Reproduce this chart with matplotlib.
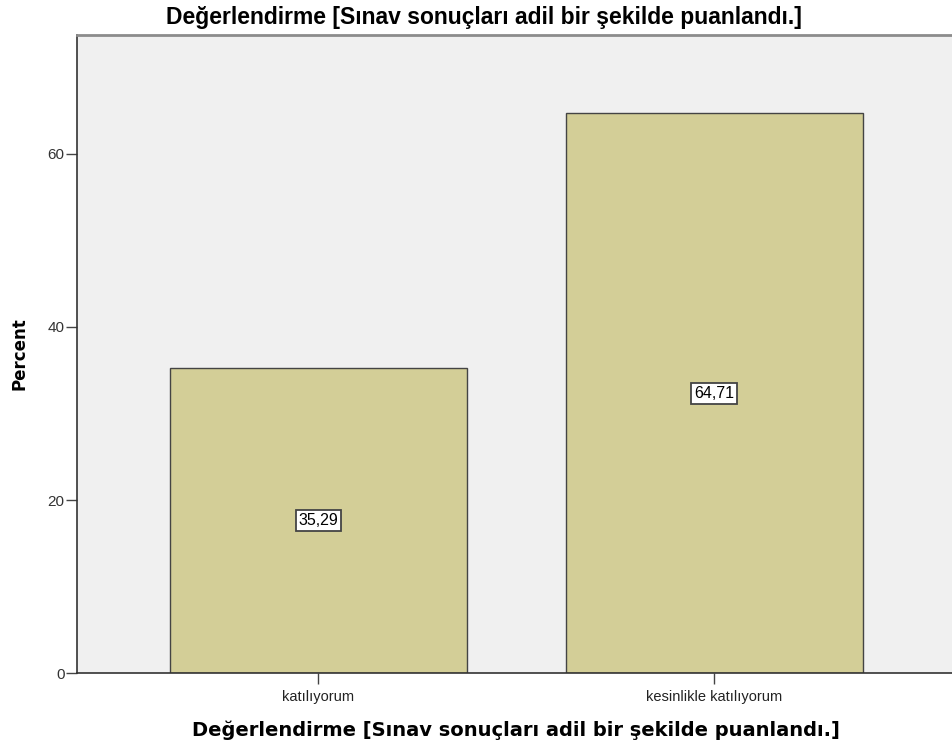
import matplotlib.pyplot as plt

categories = ["katılıyorum", "kesinlikle katılıyorum"]
percents = [35.29, 64.71]
value_labels = ["35,29", "64,71"]
y_ticks = [0, 20, 40, 60]
title = "Değerlendirme [Sınav sonuçları adil bir şekilde puanlandı.]"

plt.rcParams['font.family'] = ['Liberation Sans', 'DejaVu Sans']

fig = plt.figure(figsize=(9.52, 7.53), dpi=100)
ax = fig.add_axes([0.0809, 0.1062, 0.923, 0.8473])
ax.set_facecolor('#f0f0f0')

x = list(range(len(categories)))
ax.bar(x, percents, width=0.75, color='#d3ce97', edgecolor='#444444', linewidth=1.0, zorder=2)

# value labels in the middle of each bar
for xi, val, lab in zip(x, percents, value_labels):
    ax.text(xi, val / 2, lab, ha='center', va='center', fontsize=11.5, color='black', zorder=3,
            bbox=dict(boxstyle='square,pad=0.18', facecolor='white', edgecolor='#444444', linewidth=1.3))

ax.set_xlim(-0.61, 1.61)
ax.set_ylim(0, 73.75)
ax.set_xticks(x)
ax.set_xticklabels(categories, fontsize=10.5, color='#222222')
ax.set_yticks(y_ticks)
ax.set_yticklabels([str(t) for t in y_ticks], fontsize=11, color='#333333')
ax.tick_params(axis='y', direction='out', length=8, width=1, color='#444444', pad=1)
ax.tick_params(axis='x', direction='out', length=8, width=1, color='#444444', pad=4)

ax.spines['right'].set_visible(False)
ax.spines['left'].set_color('#333333')
ax.spines['bottom'].set_color('#333333')
ax.spines['left'].set_linewidth(1.2)
ax.spines['bottom'].set_linewidth(1.2)
ax.spines['top'].set_color('#8c8c8c')
ax.spines['top'].set_linewidth(2)

ax.set_ylabel('Percent', fontsize=12, fontweight='bold', family='DejaVu Sans', labelpad=14)
ax.set_xlabel(title, fontsize=14, fontweight='bold', family='DejaVu Sans', labelpad=12)
fig.text(0.508, 0.992, title, ha='center', va='top', fontsize=16.5, fontweight='bold')

fig.savefig('out.png', dpi=100)
